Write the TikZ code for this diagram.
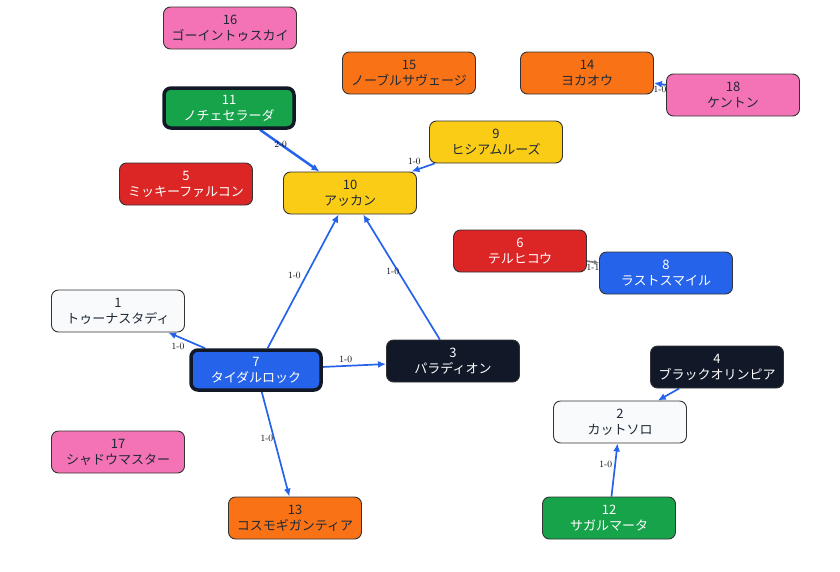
\documentclass[tikz,border=0pt]{standalone}
\usepackage{fontspec}
\newfontfamily\jpfont{Noto Sans CJK JP}
\usetikzlibrary{arrows.meta, backgrounds}

\definecolor{pinkfill}{HTML}{F472B6}
\definecolor{orangefill}{HTML}{F97316}
\definecolor{greenfill}{HTML}{16A34A}
\definecolor{yellowfill}{HTML}{FACC15}
\definecolor{redfill}{HTML}{DC2626}
\definecolor{bluefill}{HTML}{2563EB}
\definecolor{whitefill}{HTML}{F8FAFC}
\definecolor{darkfill}{HTML}{111827}
\definecolor{ink}{HTML}{1F2937}
\definecolor{edgeblue}{HTML}{2563EB}

\begin{document}
\begin{tikzpicture}[
 x=1pt, y=-1pt,
 box/.style={rectangle, draw=black!80, line width=0.9pt, rounded corners=7pt, minimum width=133pt, minimum height=42pt, align=center, inner sep=2pt, font=\jpfont\fontsize{13}{16}\selectfont},
 pinkbox/.style={box, fill=pinkfill, text=ink},
 orangebox/.style={box, fill=orangefill, text=ink},
 yellowbox/.style={box, fill=yellowfill, text=ink},
 whitebox/.style={box, fill=whitefill, text=ink},
 greenbox/.style={box, fill=greenfill, text=white},
 redbox/.style={box, fill=redfill, text=white},
 bluebox/.style={box, fill=bluefill, text=white},
 darkbox/.style={box, fill=darkfill, text=white},
 winner/.style={draw=darkfill, line width=3.5pt, minimum width=130pt, minimum height=40pt},
 arrow/.style={-{Latex[length=8pt,width=7pt]}, line width=1.7pt, draw=edgeblue},
 draw game/.style={-{Latex[length=5pt,width=5pt]}, line width=1.7pt, draw=gray},
 score/.style={font=\fontsize{9.5}{10}\selectfont, inner sep=1.5pt}
]
\useasboundingbox (0,0) rectangle (840,571);

% horses
\node[pinkbox] (n16) at (230,28) {16\\ゴーイントゥスカイ};
\node[orangebox] (n15) at (409,73) {15\\ノーブルサヴェージ};
\node[orangebox] (n14) at (587,73) {14\\ヨカオウ};
\node[pinkbox] (n18) at (733,95) {18\\ケントン};
\node[greenbox, winner] (n11) at (229,108) {11\\ノチェセラーダ};
\node[yellowbox] (n9) at (496,142) {9\\ヒシアムルーズ};
\node[redbox] (n5) at (186,184) {5\\ミッキーファルコン};
\node[yellowbox] (n10) at (350,193) {10\\アッカン};
\node[redbox] (n6) at (520,251) {6\\テルヒコウ};
\node[bluebox] (n8) at (666,273) {8\\ラストスマイル};
\node[whitebox] (n1) at (118,311) {1\\トゥーナスタディ};
\node[bluebox, winner] (n7) at (256,370) {7\\タイダルロック};
\node[darkbox] (n3) at (453,361) {3\\パラディオン};
\node[darkbox] (n4) at (717,367) {4\\ブラックオリンピア};
\node[whitebox] (n2) at (620,422) {2\\カットソロ};
\node[pinkbox] (n17) at (118,452) {17\\シャドウマスター};
\node[orangebox] (n13) at (295,518) {13\\コスモギガンティア};
\node[greenbox] (n12) at (609,518) {12\\サガルマータ};

% results
\begin{pgfonlayer}{background}
\draw[arrow, line width=2.5pt] (n11) -- node[score, anchor=south east] {2-0} (n10);
\draw[arrow] (n9) -- node[score, anchor=south east] {1-0} (n10);
\draw[arrow] (n7) -- node[score, anchor=south east] {1-0} (n10);
\draw[arrow] (n3) -- node[score, anchor=south east] {1-0} (n10);
\draw[arrow] (n7) -- node[score, anchor=north east] {1-0} (n1);
\draw[arrow] (n7) -- node[score, anchor=south east] {1-0} (n3);
\draw[arrow] (n7) -- node[score, anchor=south east] {1-0} (n13);
\draw[arrow] (n4) -- (n2);
\draw[arrow] (n12) -- node[score, anchor=south east] {1-0} (n2);
\draw[arrow] (n18) -- node[score, anchor=north] {1-0} (n14);
\draw[draw game] (n6) -- node[score, anchor=north] {1-1} (n8);
\end{pgfonlayer}
\end{tikzpicture}
\end{document}
